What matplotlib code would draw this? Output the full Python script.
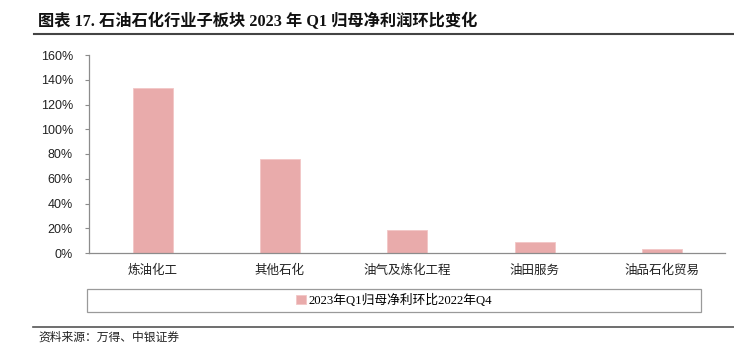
import matplotlib
matplotlib.use("Agg")
import matplotlib.pyplot as plt
from matplotlib.patches import Rectangle
from matplotlib.lines import Line2D
from matplotlib.ticker import FuncFormatter

# Sub-sector quarter-on-quarter change in net profit attributable to parent
categories = ["炼油化工", "其他石化", "油气及炼化工程", "油田服务", "油品石化贸易"]
qoq_change = [1.335, 0.758, 0.184, 0.089, 0.032]
series_name = "2023年Q1归母净利环比2022年Q4"
y_ticks = [0, 0.2, 0.4, 0.6, 0.8, 1.0, 1.2, 1.4, 1.6]

title_text = "图表 17. 石油石化行业子板块 2023 年 Q1 归母净利润环比变化"
source_text = "资料来源：万得、中银证券"

serif_cjk = ["Liberation Serif", "Noto Sans CJK SC"]
bar_color = "#E9ABAB"
axis_grey = "#8C8C8C"

W, H = 734, 353
fig = plt.figure(figsize=(W / 100, H / 100), dpi=100)

ax = fig.add_axes([89 / W, 1 - 253 / H, (725.5 - 89) / W, (253 - 55) / H])
x = range(len(categories))
bars = ax.bar(x, qoq_change, width=0.315, color=bar_color,
              edgecolor="#F2C6C6", linewidth=0.6, label=series_name)

ax.set_xlim(-0.5, len(categories) - 0.5)
ax.set_ylim(0, 1.6)
ax.set_yticks(y_ticks)
ax.yaxis.set_major_formatter(FuncFormatter(lambda v, p: f"{v * 100:.0f}%"))
ax.set_xticks(list(x))
ax.set_xticklabels(categories, family="Noto Sans CJK SC", fontsize=9, color="#222222")
for lbl in ax.get_yticklabels():
    lbl.set_family(["Liberation Sans"])
    lbl.set_fontsize(9)
    lbl.set_color("#222222")

for side in ("top", "right"):
    ax.spines[side].set_visible(False)
for side in ("left", "bottom"):
    ax.spines[side].set_color(axis_grey)
    ax.spines[side].set_linewidth(0.9)
ax.tick_params(axis="y", length=3, width=0.8, color=axis_grey, pad=8.5)
ax.tick_params(axis="x", length=0, pad=8)

# Legend box spanning the width under the category labels
box_x0, box_x1, box_y0, box_y1 = 87, 701, 289, 312
fig.add_artist(Rectangle((box_x0 / W, 1 - box_y1 / H),
                         (box_x1 - box_x0) / W, (box_y1 - box_y0) / H,
                         transform=fig.transFigure, fill=False,
                         edgecolor="#9A9A9A", linewidth=0.9))
leg = fig.legend(handles=[bars], labels=[series_name], loc="center",
                 bbox_to_anchor=((box_x0 + box_x1) / 2 / W, 1 - (box_y0 + box_y1) / 2 / H),
                 frameon=False, handlelength=0.75, handleheight=0.75,
                 handletextpad=0.2, borderpad=0,
                 prop={"family": serif_cjk, "size": 9.2})

# Header and footer
fig.text(38 / W, 1 - 21.5 / H, title_text, family=serif_cjk, fontweight="bold",
         fontsize=11.7, va="center", ha="left", color="#111111")
fig.add_artist(Line2D([34 / W, 1.0], [1 - 33.5 / H] * 2, transform=fig.transFigure,
                      color="#444444", linewidth=1.5))
fig.add_artist(Line2D([33 / W, 1.0], [1 - 326.5 / H] * 2, transform=fig.transFigure,
                      color="#555555", linewidth=1.2))
fig.text(38 / W, 1 - 337.5 / H, source_text, family="Noto Sans CJK SC",
         style="italic", fontsize=8.5, va="center", ha="left", color="#222222")

fig.savefig("out.png", dpi=100)
